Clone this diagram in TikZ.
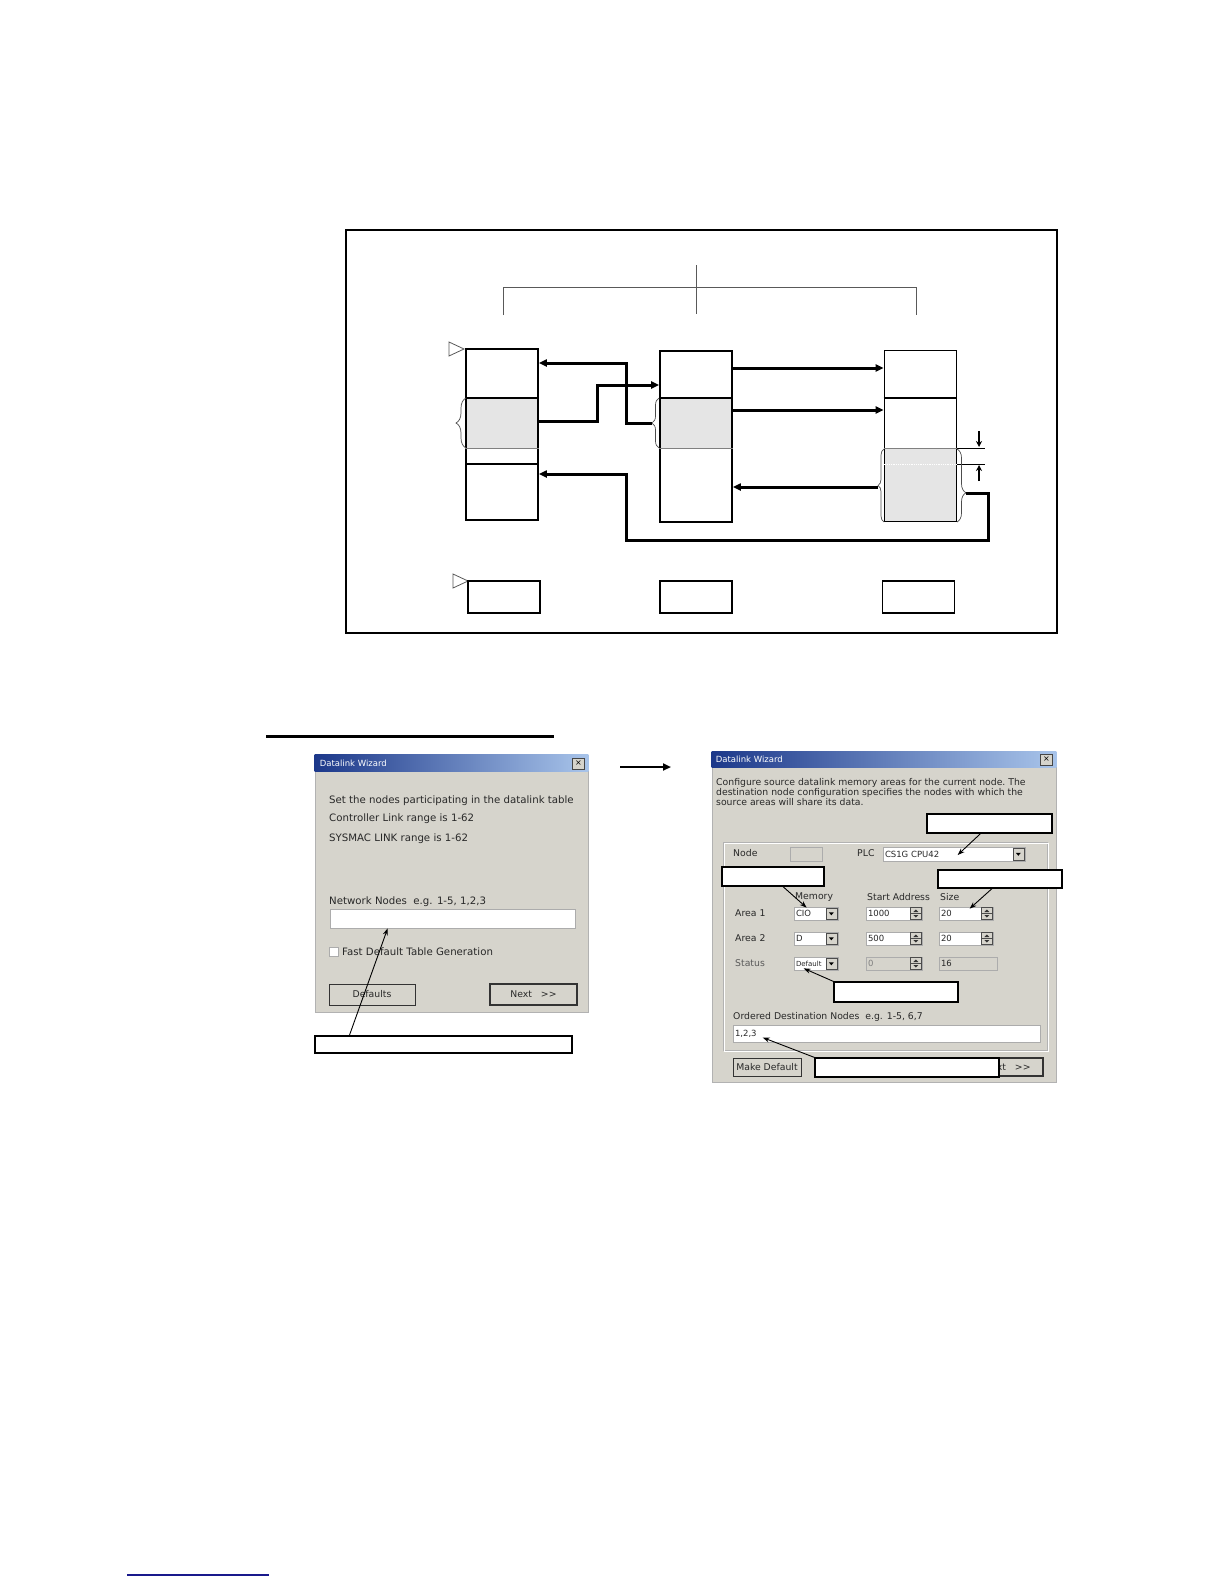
\documentclass[tikz,border=0pt]{standalone}
\usepackage{fontspec}
\setmainfont{DejaVu Sans}
\usetikzlibrary{arrows.meta,calc,backgrounds,decorations.pathreplacing}

\definecolor{dlgface}{RGB}{214,212,204}
\definecolor{barL}{RGB}{28,56,138}
\definecolor{barR}{RGB}{168,196,234}
\definecolor{memfill}{RGB}{229,229,229}
\definecolor{uitext}{RGB}{40,40,40}
\definecolor{linkline}{RGB}{25,25,140}

\begin{document}
\begin{tikzpicture}[x=1pt, y=-1pt,
    memcol/.style={draw, line width=1.8pt, minimum width=72pt, minimum height=171pt, inner sep=0pt},
    nodebox/.style={draw, line width=1.2pt, minimum width=72pt, minimum height=32pt, inner sep=0pt},
    flow/.style={line width=3pt, -{Triangle[length=8pt,width=7pt]}},
    dimarr/.style={line width=1.2pt, -{Stealth[length=6pt,width=6pt]}},
    bracket/.style={gray!70!black, line width=0.9pt},
    membrace/.style={decorate, gray!60!black, line width=0.7pt},
    marker/.style={gray!70!black, line width=0.8pt},
    dialog/.style={fill=dlgface, draw=gray!60, line width=0.8pt, inner sep=0pt},
    titletxt/.style={anchor=west, inner sep=0pt, text=white, font=\fontsize{8.5}{10}\selectfont},
    closebtn/.style={fill=dlgface, draw=gray!55!black, line width=0.5pt, minimum width=12pt, minimum height=11pt, inner sep=0pt, font=\fontsize{8}{8}\selectfont},
    uitxt/.style={anchor=west, inner sep=0pt, text=uitext, font=\fontsize{10.2}{12}\selectfont},
    uitxtB/.style={anchor=west, inner sep=0pt, text=uitext, font=\fontsize{9.3}{10}\selectfont},
    field/.style={fill=white, draw=gray!65, line width=0.7pt, inner xsep=2pt, inner ysep=0pt, align=left, text=uitext, font=\fontsize{8.5}{9}\selectfont},
    offfield/.style={field, fill=dlgface},
    button/.style={fill=dlgface, draw=gray!40!black, line width=0.8pt, inner sep=0pt, text=uitext, font=\fontsize{9.3}{10}\selectfont},
    note/.style={draw, fill=white, line width=1.2pt, inner sep=0pt},
    pointer/.style={line width=0.9pt, -{Stealth[length=7pt,width=5pt]}}
]
\useasboundingbox (0,0) rectangle (1224,1584);

% network diagram
\draw[line width=1.5pt] (346,230) rectangle (1057,633);
\draw[bracket] (503,315) -- (503,287) -- (916,287) -- (916,315);
\draw[bracket] (696,265) -- (696,314);

\node[memcol] (mem1) at (502,434.5) {};
\node[memcol] (mem2) at (696,436.5) {};
\node[memcol] (mem3) at (920.5,436) {};

\begin{scope}[on background layer]
\fill[memfill] (mem1.west |- 0,398) rectangle (mem1.east |- 0,448);
\fill[memfill] (mem2.west |- 0,398) rectangle (mem2.east |- 0,448);
\fill[memfill] (mem3.west |- 0,448) rectangle (mem3.south east);
\end{scope}

\draw[line width=1.2pt] (mem1.west |- 0,398) -- (mem1.east |- 0,398);
\draw[gray, line width=0.8pt] (mem1.west |- 0,448) -- (mem1.east |- 0,448);
\draw[line width=1.2pt] (mem1.west |- 0,464) -- (mem1.east |- 0,464);
\draw[line width=1.2pt] (mem2.west |- 0,398) -- (mem2.east |- 0,398);
\draw[gray, line width=0.8pt] (mem2.west |- 0,448) -- (mem2.east |- 0,448);
\draw[line width=1.2pt] (mem3.west |- 0,398) -- (mem3.east |- 0,398);
\draw[gray, line width=0.8pt] (mem3.west |- 0,448) -- (mem3.east |- 0,448);
\draw[white, densely dotted, line width=0.8pt] (mem3.west |- 0,464) -- (mem3.east |- 0,464);
\draw[line width=0.8pt] (mem3.east |- 0,448) -- (985,448);
\draw[line width=0.8pt] (mem3.east |- 0,464) -- (985,464);
\draw[dimarr] (979,431) -- (979,447);
\draw[dimarr] (979,481) -- (979,465);

\draw[membrace, decoration={brace, amplitude=10pt}] (466,448) -- (466,398);
\draw[membrace, decoration={brace, amplitude=7pt}] (659,448) -- (659,398);
\draw[membrace, decoration={brace, amplitude=6pt}] (884,522) -- (884,449);
\draw[membrace, decoration={brace, amplitude=9pt, aspect=0.6}] (957,449) -- (957,522);
\coordinate (tip2) at (652,423);
\coordinate (tip3l) at (878,487);
\coordinate (tip3r) at (966,493);

\draw[marker] (449,342) -- (464,349) -- (449,356) -- cycle;
\draw[marker] (453,574) -- (468,581) -- (453,588) -- cycle;

\node[nodebox] (nd1) at (504,597) {};
\node[nodebox] (nd2) at (696,597) {};
\node[nodebox] (nd3) at (918.5,597) {};

\draw[flow] (tip2) -- (626,423) |- (mem1.east |- 0,363);
\draw[flow] (mem1.east |- 0,421) -- (597,421) |- (mem2.west |- 0,385);
\draw[flow] (mem2.east |- 0,368) -- (mem3.west |- 0,368);
\draw[flow] (mem2.east |- 0,410) -- (mem3.west |- 0,410);
\draw[flow] (tip3l) -- (mem2.east |- tip3l);
\draw[flow] (tip3r) -- (988,493) |- (626,540) |- (mem1.east |- 0,474);

% heading and wizard steps
\draw[line width=3pt] (266,736) -- (554,736);
\coordinate (stepL) at (620,767);
\coordinate (stepR) at (671,767);
\draw[line width=2.5pt, -{Triangle[length=8pt,width=7pt]}] (stepL) -- (stepR);

% first wizard page
\node[dialog, minimum width=273pt, minimum height=257pt] (dlg1) at (451.5,883.5) {};
\shade[left color=barL, right color=barR] (dlg1.north west) rectangle ($(dlg1.north east)+(0,17)$);
\node[titletxt] (ttl1) at ($(dlg1.north west)+(5,9)$) {Datalink Wizard};
\node[closebtn] (cls1) at ($(dlg1.north east)+(-10,9)$) {×};
\node[uitxt] (txt1a) at (329,801) {Set the nodes participating in the datalink table};
\node[uitxt] (txt1b) at (329,819) {Controller Link range is 1-62};
\node[uitxt] (txt1c) at (329,839) {SYSMAC LINK range is 1-62};
\node[uitxt] (txt1d) at (329,902) {Network Nodes\ \ e.g. 1-5, 1,2,3};
\node[field, minimum width=245pt, minimum height=19pt] (fldNet) at (452.5,918.5) {};
\node[field, minimum width=9pt, minimum height=9pt, inner xsep=0pt] (chkFast) at (334,952) {};
\node[uitxt] (txt1e) at (342,952) {Fast Default Table Generation};
\node[button, minimum width=86pt, minimum height=21pt] (btnDef) at (372,994.5) {Defaults};
\node[button, line width=1.4pt, minimum width=87pt, minimum height=21pt] (btnNext1) at (533.5,994.5) {Next\ \ \ >{}>};
\node[note, minimum width=257pt, minimum height=17pt] (noteNet) at (443.5,1044.5) {};
\draw[pointer] ($(noteNet.north west)+(35,0)$) -- ($(fldNet.south west)+(58,0)$);

% second wizard page
\node[dialog, minimum width=344pt, minimum height=330pt] (dlg2) at (884,917) {};
\shade[left color=barL, right color=barR] (dlg2.north west) rectangle ($(dlg2.north east)+(0,16)$);
\node[titletxt] (ttl2) at ($(dlg2.north west)+(4,8)$) {Datalink Wizard};
\node[closebtn] (cls2) at ($(dlg2.north east)+(-10,8)$) {×};
\node[uitxtB] (txt2a) at (716,783) {Configure source datalink memory areas for the current node.\ The};
\node[uitxtB] (txt2b) at (716,792.5) {destination node configuration specifies the nodes with which the};
\node[uitxtB] (txt2c) at (716,802) {source areas will share its data.};
\draw[gray!60, line width=0.8pt] (723,842) rectangle (1047,1050);
\draw[white, line width=0.6pt] (724,843) rectangle (1048,1051);

\node[uitxtB] (lblNode) at (733,853) {Node};
\node[offfield, minimum width=32pt, minimum height=14pt] (fldNode) at (806,854) {};
\node[uitxtB] (lblPLC) at (857,853) {PLC};
\node[field, text width=138pt, minimum height=14pt] (cmbPLC) at (954,854) {CS1G CPU42};
\node[uitxtB] (hdrMem) at (795,897) {Memory};
\node[uitxtB] (hdrAdr) at (867,897) {Start Address};
\node[uitxtB] (hdrSize) at (940,897) {Size};

\node[uitxtB] (lblArea1) at (735,913.5) {Area 1};
\node[field, text width=40pt, minimum height=13pt] (cmbMem1) at (816,913.5) {CIO};
\node[field, text width=52pt, minimum height=13pt] (spnAdr1) at (894,913.5) {1000};
\node[field, text width=50pt, minimum height=13pt] (spnSize1) at (966,913.5) {20};
\node[uitxtB] (lblArea2) at (735,938.5) {Area 2};
\node[field, text width=40pt, minimum height=13pt] (cmbMem2) at (816,938.5) {D};
\node[field, text width=52pt, minimum height=13pt] (spnAdr2) at (894,938.5) {500};
\node[field, text width=50pt, minimum height=13pt] (spnSize2) at (966,938.5) {20};
\node[uitxtB, text=gray!70!black] (lblStat) at (735,963.5) {Status};
\node[field, text width=40pt, minimum height=13pt, font=\fontsize{7}{8}\selectfont] (cmbStat) at (816,963.5) {Default};
\node[offfield, text width=52pt, minimum height=13pt, text=gray] (spnAdr3) at (894,963.5) {0};
\node[offfield, text width=54pt, minimum height=13pt] (fldSize3) at (968,963.5) {16};

\foreach \c in {cmbPLC,cmbMem1,cmbMem2,cmbStat} {
  \draw[fill=dlgface, draw=gray!60!black, line width=0.5pt] ($(\c.north east)+(-12,1.5)$) rectangle ($(\c.south east)+(-1.5,-1.5)$);
  \fill ($(\c.east)+(-9.5,-1.2)$) -- ++(5,0) -- ++(-2.5,3) -- cycle;
}
\foreach \s in {spnAdr1,spnAdr2,spnAdr3,spnSize1,spnSize2} {
  \draw[fill=dlgface, draw=gray!60!black, line width=0.5pt] ($(\s.north east)+(-12,1)$) rectangle ($(\s.east)+(-1,0)$);
  \draw[fill=dlgface, draw=gray!60!black, line width=0.5pt] ($(\s.east)+(-12,0)$) rectangle ($(\s.south east)+(-1,-1)$);
  \fill[gray!40!black] ($(\s.east)+(-9,-1.5)$) -- ++(5,0) -- ++(-2.5,-2.5) -- cycle;
  \fill[gray!40!black] ($(\s.east)+(-9,1.5)$) -- ++(5,0) -- ++(-2.5,2.5) -- cycle;
}

\node[uitxtB] (lblDest) at (733,1017) {Ordered Destination Nodes\ \ e.g. 1-5, 6,7};
\node[field, text width=303pt, minimum height=17pt] (fldDest) at (886.5,1033.5) {1,2,3};
\node[button, minimum width=68pt, minimum height=18pt] (btnMake) at (767,1067) {Make Default};
\node[button, line width=1.4pt, minimum width=71pt, minimum height=18pt] (btnNext2) at (1007.5,1067) {Next\ \ \ >{}>};

\node[note, minimum width=125pt, minimum height=19pt] (notePLC) at (989.5,823.5) {};
\node[note, minimum width=102pt, minimum height=19pt] (noteMem) at (773,876.5) {};
\node[note, minimum width=124pt, minimum height=18pt] (noteSize) at (1000,879) {};
\node[note, minimum width=124pt, minimum height=20pt] (noteStat) at (896,992) {};
\node[note, minimum width=184pt, minimum height=19pt] (noteDest) at (907,1067.5) {};
\draw[pointer] ($(notePLC.south)+(-9,0)$) -- ($(cmbPLC.west)+(75,1)$);
\draw[pointer] ($(noteMem.south)+(10,0)$) -- ($(cmbMem1.north west)+(13,1)$);
\draw[pointer] ($(noteSize.south)+(-8,0)$) -- ($(spnSize1.north west)+(31,2)$);
\draw[pointer] (noteStat.north west) -- ($(cmbStat.south west)+(10,-2)$);
\draw[pointer] (noteDest.north west) -- ($(fldDest.west)+(30,4)$);

% page footer
\draw[linkline, line width=1.2pt] (127,1575) -- (269,1575);
\end{tikzpicture}
\end{document}
